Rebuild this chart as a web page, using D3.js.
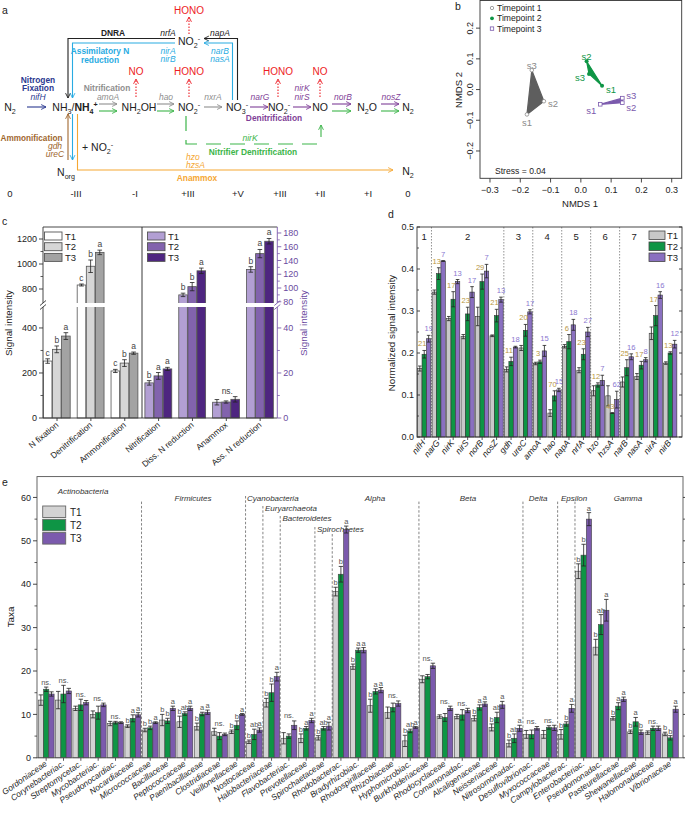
<!DOCTYPE html>
<html><head><meta charset="utf-8">
<script src="https://cdn.jsdelivr.net/npm/d3@7"></script>
<style>body{margin:0;background:#fff}svg{font-family:"Liberation Sans",Arial,sans-serif}</style>
</head><body><svg id="chart" width="685" height="814"></svg>
<script>
// ===================== DATA =====================
// panel a
const aStates=["0","-III","-I","+III","+V","+III","+II","+I","0"];
// panel b
const nmdsTimes=["Timepoint 1","Timepoint 2","Timepoint 3"];
const nmdsSamples=["s1","s2","s3"];
const nmdsX=[[-0.178,-0.122,-0.162],[0.070,0.019,0.027],[0.064,0.137,0.137]];
const nmdsY=[[-0.081,-0.038,0.063],[0.012,0.092,0.051],[-0.048,-0.043,-0.028]];
const nmdsXTicks=[-0.3,-0.2,-0.1,0.0,0.1,0.2,0.3];
const nmdsYTicks=[-0.2,-0.1,0.0,0.1,0.2];
const nmdsStress="Stress = 0.04";
// panel c
const cCats=["N fixation","Denitrification","Ammonification","Nitrification","Diss. N reduction","Anammox","Ass. N reduction"];
const cT1=[253,832,209,15.6,90,7.0,127];
const cT2=[305,982,244,18.7,102,7.1,150];
const cT3=[364,1093,288,21.8,125,8.3,168];
const cE1=[10,8,7,1.0,2.5,1.2,4];
const cE2=[15,50,15,1.5,6,0.5,6];
const cE3=[15,18,5,0.7,4,1.2,4];
const cLetters=["c b a","c b a","c b a","b a a","b b a","ns.","b a a"];
const cLeftTicks=[0,200,400,800,1000,1200];
const cRightTicks=[0,20,40,80,100,120,140,160,180];
// panel d
const dGenes=["nifH","narG","nirK","nirS","norB","nosZ","gdh","ureC","amoA","hao","napA","nrfA","hzo","hzsA","narB","nasA","nirA","nirB"];
const dT1=[0.163,0.345,0.282,0.239,0.287,0.241,0.161,0.212,0.175,0.057,0.216,0.159,0.110,0.098,0.131,0.144,0.247,0.176];
const dT2=[0.197,0.389,0.328,0.293,0.370,0.289,0.180,0.254,0.179,0.098,0.227,0.197,0.124,0.057,0.165,0.171,0.289,0.200];
const dT3=[0.234,0.419,0.370,0.345,0.395,0.327,0.214,0.298,0.205,0.112,0.267,0.250,0.135,0.089,0.191,0.184,0.338,0.221];
const dE1=[0.006,0.005,0.005,0.005,0.022,0.002,0.006,0.006,0.003,0.008,0.004,0.006,0.012,0.024,0.012,0.007,0.015,0.003];
const dE2=[0.009,0.014,0.018,0.016,0.018,0.015,0.010,0.014,0.004,0.012,0.017,0.013,0.005,0.001,0.019,0.009,0.024,0.003];
const dE3=[0.008,0.001,0.005,0.013,0.016,0.006,0.002,0.005,0.013,0.004,0.013,0.011,0.012,0.020,0.007,0.005,0.008,0.009];
const dNumT2=[21,13,17,23,29,21,11,20,3,70,6,23,12,43,25,17,17,13];
const dNumT3=[19,7,13,17,7,13,18,17,15,15,18,27,7,62,16,8,16,12];
const dGroupNames=["1","2","3","4","5","6","7"];
const dGroupStart=[0,1,6,8,10,12,14];
const dYTicks=[0,0.1,0.2,0.3,0.4,0.5];
// panel e
const eTaxa=["Gordoniaceae","Corynebacteriac.","Streptomycetac.","Mycobacteriac.","Pseudonocardiac.","Nocardiaceae","Micrococcaceae","Bacillaceae","Peptococcaceae","Paenibacillaceae","Clostridiaceae","Veillonellaceae","Nostocaceae","Halobacteriaceae","Flavobacteriac.","Prevotellaceae","Spirochaetaceae","Rhodobacterac.","Bradyrhizobiac.","Rhodospirillaceae","Rhizobiaceae","Hyphomicrobiac.","Burkholderiaceae","Rhodocyclaceae","Comamonadac.","Alcaligenaceae","Neisseriaceae","Nitrosomonadac.","Desulfovibrionac.","Myxococcaceae","Campylobacterac.","Enterobacteriac.","Pseudomonadac.","Pasteurellaceae","Shewanellaceae","Halomonadaceae","Vibrionaceae"];
const eT1=[13.3,13.3,11.4,10.0,7.9,7.3,6.4,8.7,8.3,7.2,6.0,6.0,3.7,12.7,4.5,4.5,4.6,38.3,21.0,12.0,10.4,3.9,18.1,9.5,9.5,9.1,7.0,3.3,5.4,5.4,5.4,43.0,25.5,9.1,6.0,5.8,5.5];
const eT2=[15.8,14.7,12.2,10.4,8.1,9.1,6.9,8.5,10.2,10.1,5.0,7.5,5.4,15.0,5.0,6.8,6.8,42.3,24.8,15.3,11.6,6.2,18.7,9.3,9.9,11.6,9.3,4.5,5.4,7.0,7.8,46.7,30.7,11.9,8.3,6.8,4.6];
const eT3=[14.7,15.4,12.7,12.2,8.1,9.9,8.1,11.4,11.4,10.5,5.4,10.0,6.4,18.7,7.5,8.6,7.3,52.6,24.8,15.6,12.5,7.0,21.2,11.4,10.9,12.4,12.2,6.8,6.8,6.9,11.4,55.0,34.0,13.5,5.9,6.8,11.2];
const eE1=[1.2,2.0,0.5,0.8,0.5,0.3,0.4,1.3,1.3,0.8,0.8,0.4,0.4,1.0,1.3,1.0,0.5,1.0,0.6,1.5,1.3,1.3,0.8,0.4,0.5,0.6,0.8,0.8,0.9,0.9,1.1,1.7,1.8,0.4,0.4,0.4,0.4];
const eE2=[0.5,2.0,1.3,1.5,0.3,0.8,0.4,0.6,0.4,0.4,0.8,1.0,1.2,2.0,0.5,0.4,0.4,1.8,0.5,0.6,1.0,0.4,0.5,0.9,1.2,0.6,1.2,1.0,1.0,0.4,0.5,2.5,2.3,0.8,1.0,0.5,0.5];
const eE3=[0.5,0.6,0.5,0.4,0.2,0.5,0.2,0.5,0.5,0.5,0.3,0.2,0.5,1.0,1.0,0.5,0.9,0.8,0.6,0.6,0.6,0.2,0.6,0.5,0.5,0.5,0.8,0.7,0.4,0.6,0.9,1.5,2.5,0.5,0.5,0.5,0.7];
const eLetters=["ns.","ns.","ns.","ns.","ns.","b a a","b b a","b b a","b ab a","b a a","ns.","b b a","b ab a","b b a","ns.","b a a","b ab a","b b a","b a a","b a a","ns.","b ab a","ns.","ns.","ns.","b a a","b ab a","b ab a","ns.","ns.","b b a","b b a","b ab a","b a a","b a b","ns.","b b a"];
const ePhyla=["Actinobacteria","Firmicutes","Cyanobacteria","Euryarchaeota","Bacteroidetes","Spirochaetes","Alpha","Beta","Delta","Epsilon","Gamma"];
const ePhylaStart=[0,6,12,13,14,16,17,22,28,30,31];
const eYTicks=[0,10,20,30,40,50,60];
const seriesNames=["T1","T2","T3"];

// ===================== HELPERS =====================
const svg=d3.select("#chart");
const defs=svg.append("defs");
function marker(id,color){
  defs.append("marker").attr("id",id).attr("viewBox","0 0 8 8").attr("refX",7).attr("refY",4)
    .attr("markerWidth",6.5).attr("markerHeight",6.5).attr("markerUnits","userSpaceOnUse").attr("orient","auto")
    .append("path").attr("d","M1,1 L7,4 L1,7").attr("fill","none").attr("stroke",color).attr("stroke-width",1.1);
}
const COL={navy:"#2b3990",gray:"#8f8f8f",blue:"#29abe2",purple:"#7f3f98",green:"#3db54a",orange:"#f5a733",brown:"#a0672e",red:"#ed1c24",black:"#222"};
Object.entries(COL).forEach(([k,c])=>marker("m-"+k,c));
function T(g,x,y,s,o={}){
  const t=g.append("text").attr("x",x).attr("y",y).text(s).style("font-size",(o.fs||10)+"px")
    .attr("fill",o.c||"#222").attr("text-anchor",o.a||"middle");
  if(o.b) t.style("font-weight","bold");
  if(o.i) t.style("font-style","italic");
  if(o.r!==undefined) t.attr("transform",`rotate(${o.r},${x},${y})`);
  return t;
}
function chem(g,x,y,parts,o={}){
  const fs=o.fs||10.5;
  const t=g.append("text").attr("x",x).attr("y",y).attr("text-anchor",o.a||"middle").style("font-size",fs+"px").attr("fill",o.c||"#222");
  let sh=0;
  parts.forEach(p=>{
    const [s,type,bold]=p;
    const tgt=type==="sub"?2.8:type==="sup"?-4.2:0;
    const ts=t.append("tspan").text(s).attr("dy",tgt-sh);
    if(type) ts.style("font-size",(fs*0.68)+"px");
    if(bold) ts.style("font-weight","bold");
    sh=tgt;
  });
  return t;
}
function L(g,x1,y1,x2,y2,c,w,dash){
  const l=g.append("line").attr("x1",x1).attr("y1",y1).attr("x2",x2).attr("y2",y2).attr("stroke",c).attr("stroke-width",w||1);
  if(dash) l.attr("stroke-dasharray",dash);
  return l;
}
function P(g,pts,colKey,o={}){
  const p=g.append("path").attr("d",d3.line()(pts)).attr("fill","none").attr("stroke",COL[colKey]).attr("stroke-width",o.w||1.1);
  if(o.arrow!==false) p.attr("marker-end",`url(#m-${colKey})`);
  if(o.dash) p.attr("stroke-dasharray",o.dash);
  return p;
}
function errBar(g,x,yTop,yBot,cap){
  L(g,x,yTop,x,yBot,"#222",0.8);
  L(g,x-cap,yTop,x+cap,yTop,"#222",0.8);
  L(g,x-cap,yBot,x+cap,yBot,"#222",0.8);
}
const BF=8.4, IF=8.5;

// ===================== PANEL A =====================
const ga=svg.append("g");
T(ga,2,14,"a",{a:"start",fs:10.5});
const R=111;
chem(ga,10,R,[["N"],["2","sub"]]);
P(ga,[[27,107],[46,107]],"navy");
chem(ga,75,R,[["NH"],["3","sub"],["/"],["NH","",true],["4","sub",true],["+","sup",true]]);
P(ga,[[99,104],[117,104]],"gray");P(ga,[[99,111],[117,111]],"green");
chem(ga,139,R,[["NH"],["2","sub"],["OH"]]);
P(ga,[[157,104],[174,104]],"gray");P(ga,[[157,111],[174,111]],"green");
chem(ga,189,R,[["NO"],["2","sub"],["-","sup"]]);
P(ga,[[204,107],[222,107]],"gray");
chem(ga,237,R,[["NO"],["3","sub"],["-","sup"]]);
P(ga,[[250,107],[268,107]],"purple");
chem(ga,279,R,[["NO"],["2","sub"],["-","sup"]]);
P(ga,[[293,107],[311,107]],"purple");
chem(ga,320,R,[["NO"]]);
P(ga,[[332,104],[351,104]],"purple");P(ga,[[332,111],[351,111]],"green");
chem(ga,367,R,[["N"],["2","sub"],["O"]]);
P(ga,[[381,104],[399,104]],"purple");P(ga,[[381,111],[399,111]],"green");
chem(ga,408,R,[["N"],["2","sub"]]);
T(ga,38,83,"Nitrogen",{c:COL.navy,b:true,fs:BF});
T(ga,38,91,"Fixation",{c:COL.navy,b:true,fs:BF});
T(ga,38,99.5,"nifH",{c:COL.navy,i:true,fs:IF});
T(ga,107,91,"Nitrification",{c:COL.gray,b:true,fs:BF});
T(ga,108,100,"amoA",{c:COL.gray,i:true,fs:IF});
T(ga,166,100,"hao",{c:COL.gray,i:true,fs:IF});
T(ga,213,100,"nxrA",{c:COL.gray,i:true,fs:IF});
T(ga,260,100,"narG",{c:COL.purple,i:true,fs:IF});
T(ga,302,91,"nirK",{c:COL.purple,i:true,fs:IF});
T(ga,302,99.5,"nirS",{c:COL.purple,i:true,fs:IF});
T(ga,343,100,"norB",{c:COL.purple,i:true,fs:IF});
T(ga,391,100,"nosZ",{c:COL.purple,i:true,fs:IF});
T(ga,274,121,"Denitrification",{c:COL.purple,b:true,fs:BF});
[[136,"NO"],[189,"HONO"],[278,"HONO"],[320,"NO"]].forEach(([x,s])=>{
  T(ga,x,75,s,{c:COL.red,fs:10});
  P(ga,[[x,97],[x,79]],"red",{dash:"1.5,1.5"});
});
T(ga,189,14,"HONO",{c:COL.red,fs:10});
P(ga,[[189,34],[189,17]],"red",{dash:"1.5,1.5"});
chem(ga,189,45,[["NO"],["2","sub"],["-","sup"]]);
T(ga,113,36,"DNRA",{b:true,fs:BF});
T(ga,168,36,"nrfA",{i:true,fs:IF});
T(ga,220,36,"napA",{i:true,fs:IF});
P(ga,[[237.5,100],[237.5,38.5],[204,38.5]],"black");
P(ga,[[175,38.5],[68,38.5],[68,98]],"black");
P(ga,[[232.5,100],[232.5,43],[204,43]],"blue");
P(ga,[[175,43],[72.5,43],[72.5,98]],"blue");
T(ga,100,54,"Assimilatory N",{c:COL.blue,b:true,fs:BF});
T(ga,100,62.5,"reduction",{c:COL.blue,b:true,fs:BF});
T(ga,168,54,"nirA",{c:COL.blue,i:true,fs:IF});
T(ga,168,62,"nirB",{c:COL.blue,i:true,fs:IF});
T(ga,220,54,"narB",{c:COL.blue,i:true,fs:IF});
T(ga,220,62,"nasA",{c:COL.blue,i:true,fs:IF});
P(ga,[[68,160],[68,114]],"brown");
P(ga,[[72.5,114],[72.5,160]],"blue");
T(ga,31.5,141,"Ammonification",{c:COL.brown,b:true,fs:8.2});
T(ga,55,149,"gdh",{c:COL.brown,i:true,fs:IF});
T(ga,55,157,"ureC",{c:COL.brown,i:true,fs:IF});
chem(ga,82,151,[["+ NO"],["2","sub"],["-","sup"]],{a:"start"});
chem(ga,66,176,[["N"],["org","sub"]]);
P(ga,[[77.5,114],[77.5,170],[393,170]],"orange");
chem(ga,408,175,[["N"],["2","sub"]]);
T(ga,186,160,"hzo",{c:COL.orange,i:true,fs:IF,a:"start"});
T(ga,186,168,"hzsA",{c:COL.orange,i:true,fs:IF,a:"start"});
T(ga,197,181,"Anammox",{c:COL.orange,b:true,fs:BF});
P(ga,[[186,116],[186,144],[320,144]],"green",{arrow:false,dash:"15,9",w:1.2});
P(ga,[[321,137],[321,125]],"green");
T(ga,250,141,"nirK",{c:COL.green,i:true,fs:IF});
T(ga,253,154.5,"Nitrifier Denitrification",{c:COL.green,b:true,fs:BF});
const stateX=[10,76,135,188,238,280,320,368,408];
aStates.forEach((s,i)=>T(ga,stateX[i],197,s,{fs:9.5}));

// ===================== PANEL B =====================
const gb=svg.append("g");
T(gb,455,10,"b",{a:"start",fs:10.5});
const xb=d3.scaleLinear().domain([-0.333,0.333]).range([480,681.7]);
const yb=d3.scaleLinear().domain([-0.289,0.29]).range([178.3,0.5]);
gb.append("rect").attr("x",480).attr("y",0.5).attr("width",201.7).attr("height",177.8).attr("fill","none").attr("stroke","#333").attr("stroke-width",0.9);
const fmtB=v=>(v<0?"\u2212":"")+Math.abs(v).toFixed(1);
nmdsXTicks.forEach(v=>{L(gb,xb(v),178.3,xb(v),182.5,"#333",0.9);T(gb,xb(v),192.5,fmtB(v),{fs:9});});
nmdsYTicks.forEach(v=>{L(gb,476,yb(v),480,yb(v),"#333",0.9);T(gb,473,yb(v),fmtB(v),{fs:9,r:-90});});
T(gb,580,207,"NMDS 1",{fs:9.5});
T(gb,462,90,"NMDS 2",{fs:9.5,r:-90});
const bCol=["#8a8a8a","#0e9545","#7b5aad"];
const bFill=["#5e5e5e","#0e9545","#7b5aad"];
const bLab=[[[0,9,"middle"],[4,3,"start"],[0,-4,"middle"]],
            [[4,4,"start"],[0,-4,"middle"],[-4,4,"end"]],
            [[-4,7,"end"],[4,5,"start"],[4,-2,"start"]]];
nmdsTimes.forEach((tp,k)=>{
  const pts=nmdsSamples.map((s,j)=>[xb(nmdsX[k][j]),yb(nmdsY[k][j])]);
  const hull=d3.polygonHull(pts)||pts;
  gb.append("path").attr("d","M"+hull.join("L")+"Z").attr("fill",bFill[k]).attr("stroke",bFill[k]).attr("stroke-width",1.2).attr("stroke-linejoin","round");
  pts.forEach(([x,y],j)=>{
    if(k===0) gb.append("circle").attr("cx",x).attr("cy",y).attr("r",1.8).attr("fill","#fff").attr("stroke",bCol[0]).attr("stroke-width",0.8);
    else if(k===1) gb.append("circle").attr("cx",x).attr("cy",y).attr("r",2).attr("fill",bCol[1]);
    else gb.append("rect").attr("x",x-1.8).attr("y",y-1.8).attr("width",3.6).attr("height",3.6).attr("fill","#fff").attr("stroke",bCol[2]).attr("stroke-width",0.8);
    const [dx,dy,an]=bLab[k][j];
    T(gb,x+dx,y+dy+3,nmdsSamples[j],{fs:9.5,c:bCol[k],a:an});
  });
  const ly=8+k*10.3;
  if(k===0) gb.append("circle").attr("cx",492).attr("cy",ly).attr("r",1.7).attr("fill","#fff").attr("stroke",bCol[0]).attr("stroke-width",0.8);
  else if(k===1) gb.append("circle").attr("cx",492).attr("cy",ly).attr("r",1.9).attr("fill",bCol[1]);
  else gb.append("rect").attr("x",490.3).attr("y",ly-1.7).attr("width",3.4).attr("height",3.4).attr("fill","#fff").attr("stroke",bCol[2]).attr("stroke-width",0.8);
  T(gb,497,ly+3.1,tp,{fs:8.6,a:"start"});
});
T(gb,495,174,nmdsStress,{fs:8.6,a:"start"});

// ===================== PANEL C =====================
const gc=svg.append("g");
T(gc,2,225,"c",{a:"start",fs:10.5});
const cTop=227,cBot=418,cBreak=305,cL=43,cR=277.3,cDiv=142;
const yLlo=d3.scaleLinear().domain([0,502]).range([cBot,cBreak]);
const yLhi=d3.scaleLinear().domain([672,1296]).range([cBreak,cTop]);
const yRlo=d3.scaleLinear().domain([0,50.2]).range([cBot,cBreak]);
const yRhi=d3.scaleLinear().domain([75.3,188.7]).range([cBreak,cTop]);
const ycL=v=>v<=502?yLlo(v):yLhi(v);
const ycR=v=>v<=50.2?yRlo(v):yRhi(v);
const xc=d3.scaleBand().domain(cCats).range([40.1,277.1]);
const cFillL=["#ffffff","#d6d6d6","#a3a3a3"];
const cFillR=["#b29fd3","#8263ad","#4e2580"];
const cVals=[cT1,cT2,cT3],cErr=[cE1,cE2,cE3];
cCats.forEach((cat,i)=>{
  const right=i>=3, ys=right?ycR:ycL, fills=right?cFillR:cFillL;
  const cx=xc(cat)+xc.bandwidth()/2;
  const tops=[];
  for(let k=0;k<3;k++){
    const v=cVals[k][i],e=cErr[k][i];
    const x0=cx-13.7+k*9.13;
    gc.append("rect").attr("x",x0).attr("y",ys(v)).attr("width",8.6).attr("height",cBot-ys(v)).attr("fill",fills[k]).attr("stroke","#555").attr("stroke-width",0.8);
    errBar(gc,x0+4.3,ys(v+e),ys(v-e),2.3);
    tops.push([x0+4.3,ys(v+e)]);
  }
  const lets=cLetters[i].split(" ");
  if(lets.length===1){T(gc,cx+1,Math.min(...tops.map(t=>t[1]))-3,lets[0],{fs:8.5,c:"#444"});}
  else lets.forEach((s,k)=>T(gc,tops[k][0],tops[k][1]-3,s,{fs:8.5,c:"#444"}));
});
gc.append("rect").attr("x",cL-3).attr("y",cBreak-2).attr("width",cR-cL+6).attr("height",4).attr("fill","#fff");
L(gc,cL,cTop,cR,cTop,"#333",0.9);
L(gc,cL,cBot,cR,cBot,"#333",0.9);
L(gc,cL,cTop,cL,cBreak-2,"#333",0.9);L(gc,cL,cBreak+2,cL,cBot,"#333",0.9);
L(gc,cR,cTop,cR,cBreak-2,"#7b5aad",0.9);L(gc,cR,cBreak+2,cR,cBot,"#7b5aad",0.9);
L(gc,cDiv,cTop,cDiv,cBot,"#222",0.9);
[[cL,"#333"],[cR,"#7b5aad"]].forEach(([x,c])=>{
  L(gc,x-3,cBreak+0.5,x+3,cBreak-4.5,c,0.9);L(gc,x-3,cBreak+4.5,x+3,cBreak-0.5,c,0.9);
});
cLeftTicks.forEach(v=>{const y=ycL(v);L(gc,cL-4,y,cL,y,"#333",0.9);T(gc,cL-6,y+3.2,String(v),{fs:9,a:"end"});});
[100,300,900,1100].forEach(v=>L(gc,cL-2.5,ycL(v),cL,ycL(v),"#333",0.8));
cRightTicks.forEach(v=>{const y=ycR(v);L(gc,cR,y,cR+4,y,"#7b5aad",0.9);T(gc,cR+6,y+3.2,String(v),{fs:9,a:"start",c:"#6b4aa0"});});
[10,30,90,110,130,150,170].forEach(v=>L(gc,cR,ycR(v),cR+2.5,ycR(v),"#7b5aad",0.8));
cCats.forEach(cat=>{const x=xc(cat)+xc.bandwidth()/2;L(gc,x,cBot,x,cBot+3,"#333",0.9);T(gc,x+2,426,cat,{fs:8.5,a:"end",r:-40});});
T(gc,12,323,"Signal intensity",{fs:9.8,r:-90});
T(gc,307,323,"Signal intensity",{fs:9.8,r:-90,c:"#6b4aa0"});
seriesNames.forEach((s,k)=>{
  gc.append("rect").attr("x",44.5).attr("y",232+k*10.7).attr("width",17.5).attr("height",8).attr("fill",cFillL[k]).attr("stroke","#555").attr("stroke-width",0.9);
  T(gc,65,239.5+k*10.7,s,{fs:9.5,a:"start"});
  gc.append("rect").attr("x",147.5).attr("y",232+k*10.7).attr("width",17.5).attr("height",8).attr("fill",cFillR[k]).attr("stroke","#555").attr("stroke-width",0.9);
  T(gc,168,239.5+k*10.7,s,{fs:9.5,a:"start"});
});

// ===================== PANEL D =====================
const gd=svg.append("g");
T(gd,388,218,"d",{a:"start",fs:10.5});
const dL=417,dR=682,dTop=227,dBot=437;
const xd=d3.scaleBand().domain(dGenes).range([dL,677.5]);
const yd=d3.scaleLinear().domain([0,0.5]).range([dBot,dTop]);
const dFill=["#c8c8c8","#0e9545","#8a70c0"];
const dVals=[dT1,dT2,dT3],dErr=[dE1,dE2,dE3];
const bwD=4.4;
dGroupStart.slice(1).forEach(s=>{const x=xd(dGenes[s]);L(gd,x,dTop,x,dBot,"#777",0.8,"1.5,1.5");});
dGroupNames.forEach((n,g)=>{
  const s=dGroupStart[g], e=g<dGroupStart.length-1?dGroupStart[g+1]:dGenes.length;
  let x=(xd(dGenes[s])+xd(dGenes[e-1])+xd.bandwidth())/2;
  if(g===6) x=xd(dGenes[s])+xd.bandwidth();
  T(gd,x,240,n,{fs:9.5});
});
dGenes.forEach((gname,i)=>{
  const cx=xd(gname)+xd.bandwidth()/2;
  const tops=[];
  for(let k=0;k<3;k++){
    const v=dVals[k][i],e=dErr[k][i];
    const x0=cx-1.5*bwD+k*bwD;
    gd.append("rect").attr("x",x0).attr("y",yd(v)).attr("width",bwD).attr("height",dBot-yd(v)).attr("fill",dFill[k]).attr("stroke","#333").attr("stroke-width",0.6);
    errBar(gd,x0+bwD/2,yd(v+e),yd(v-e),1.8);
    tops.push([x0+bwD/2,yd(v+e)]);
  }
  T(gd,tops[1][0]-2,tops[1][1]-4,String(dNumT2[i]),{fs:7.6,c:"#b8973f"});
  T(gd,tops[2][0],tops[2][1]-4,String(dNumT3[i]),{fs:7.6,c:"#8a78d0"});
  L(gd,cx,dBot,cx,dBot+3,"#333",0.8);
  T(gd,cx+1.5,443,gname,{fs:8.6,i:true,a:"end",r:-50});
});
gd.append("rect").attr("x",dL).attr("y",dTop).attr("width",dR-dL).attr("height",dBot-dTop).attr("fill","none").attr("stroke","#333").attr("stroke-width",0.9);
dYTicks.forEach(v=>{L(gd,dL,yd(v),dL+3,yd(v),"#333",0.9);L(gd,dR-3,yd(v),dR,yd(v),"#333",0.9);T(gd,dL-3,yd(v)+3.2,v.toFixed(1),{fs:9,a:"end"});});
[0.05,0.15,0.25,0.35,0.45].forEach(v=>{L(gd,dL,yd(v),dL+2,yd(v),"#333",0.8);L(gd,dR-2,yd(v),dR,yd(v),"#333",0.8);});
T(gd,395,333,"Normalized signal intensity",{fs:9.8,r:-90});
seriesNames.forEach((s,k)=>{
  gd.append("rect").attr("x",649).attr("y",231+k*11).attr("width",16).attr("height",8.5).attr("fill",dFill[k]).attr("stroke","#444").attr("stroke-width",0.8);
  T(gd,667,239.2+k*11,s,{fs:9.5,a:"start"});
});

// ===================== PANEL E =====================
const ge=svg.append("g");
T(ge,2,486,"e",{a:"start",fs:10.5});
const eL=37,eR=683,eTop=476.6,eBot=757.8;
const xe=d3.scaleBand().domain(eTaxa).range([37.5,679]);
const ye=d3.scaleLinear().domain([0,64.8]).range([eBot,eTop]);
const eFill=["#d3d3d3","#0e9545","#7b5aad"];
const eVals=[eT1,eT2,eT3],eErr=[eE1,eE2,eE3];
const bwE=5.3;
const divTop=[501.6,496,506,516,527,534,501.6,501.6,501.6,501.6];
const phLab=[[83,494,"middle"],[193,501,"middle"],[247,501,"start"],[265,510.5,"start"],[282.5,521,"start"],[317,531.5,"start"],[375,501,"middle"],[468,501,"middle"],[538,501,"middle"],[574,501,"middle"],[628,501,"middle"]];
ePhylaStart.slice(1).forEach((s,j)=>{const x=xe(eTaxa[s]);L(ge,x,divTop[j],x,eBot,"#666",0.8,"2.5,1.8");});
ePhyla.forEach((p,j)=>T(ge,phLab[j][0],phLab[j][1],p,{fs:8,i:true,a:phLab[j][2],c:"#333"}));
eTaxa.forEach((tx,i)=>{
  const cx=xe(tx)+xe.bandwidth()/2;
  const tops=[];
  for(let k=0;k<3;k++){
    const v=eVals[k][i],e=eErr[k][i];
    const x0=cx-1.5*bwE+k*bwE;
    ge.append("rect").attr("x",x0).attr("y",ye(v)).attr("width",bwE).attr("height",eBot-ye(v)).attr("fill",eFill[k]).attr("stroke","#444").attr("stroke-width",0.6);
    errBar(ge,x0+bwE/2,ye(v+e),ye(v-e),2.2);
    tops.push([x0+bwE/2,ye(v+e)]);
  }
  const lets=eLetters[i].split(" ");
  if(lets.length===1) T(ge,tops[1][0],Math.min(...tops.map(t=>t[1]))-2.5,lets[0],{fs:7.5,c:"#555"});
  else lets.forEach((s,k)=>T(ge,tops[k][0],tops[k][1]-2,s,{fs:7.5,c:"#555"}));
  L(ge,cx,eBot,cx,eBot+3,"#333",0.8);
  T(ge,cx+1.5,765,tx,{fs:8.4,i:true,a:"end",r:-35});
});
ge.append("rect").attr("x",eL).attr("y",eTop).attr("width",eR-eL).attr("height",eBot-eTop).attr("fill","none").attr("stroke","#555").attr("stroke-width",0.9);
eYTicks.forEach(v=>{L(ge,eL-4,ye(v),eL,ye(v),"#333",0.9);L(ge,eR,ye(v),eR+3,ye(v),"#333",0.9);T(ge,eL-6,ye(v)+3.2,String(v),{fs:9,a:"end"});});
[5,15,25,35,45,55].forEach(v=>{L(ge,eL-2.5,ye(v),eL,ye(v),"#333",0.8);L(ge,eR,ye(v),eR+2,ye(v),"#333",0.8);});
T(ge,14,617,"Taxa",{fs:9.8,r:-90});
seriesNames.forEach((s,k)=>{
  ge.append("rect").attr("x",42.7).attr("y",506+k*13.3).attr("width",23).attr("height",11.5).attr("fill",eFill[k]).attr("stroke","#666").attr("stroke-width",0.9);
  T(ge,70,515.5+k*13.3,s,{fs:10,a:"start"});
});
</script></body></html>
